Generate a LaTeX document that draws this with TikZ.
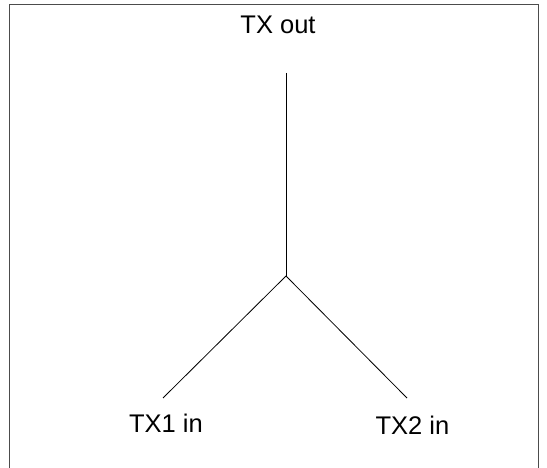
\documentclass[tikz,border=0pt]{standalone}
\usepackage{fontspec}
\setmainfont{Liberation Sans}
\begin{document}
\begin{tikzpicture}[x=1pt,y=-1pt,
  lbl/.style={font=\fontsize{25.5}{30}\selectfont, inner sep=0pt, anchor=base},
  wire/.style={line width=0.8pt, black}]
\useasboundingbox (0,0) rectangle (547,468);
\draw[line width=1pt, black!70] (9.5,480) -- (9.5,5) -- (538,5) -- (538,480);
\node[lbl] (out) at (278,34) {TX out};
\node[lbl] (in1) at (166,432) {TX1 in};
\node[lbl] (in2) at (412.5,434) {TX2 in};
\coordinate (top) at (286,73);
\coordinate (j) at (286,276);
\coordinate (e1) at (163,398);
\coordinate (e2) at (407,398);
\draw[wire] (top) -- (j);
\draw[wire] (j) -- (e1);
\draw[wire] (j) -- (e2);
\end{tikzpicture}
\end{document}
